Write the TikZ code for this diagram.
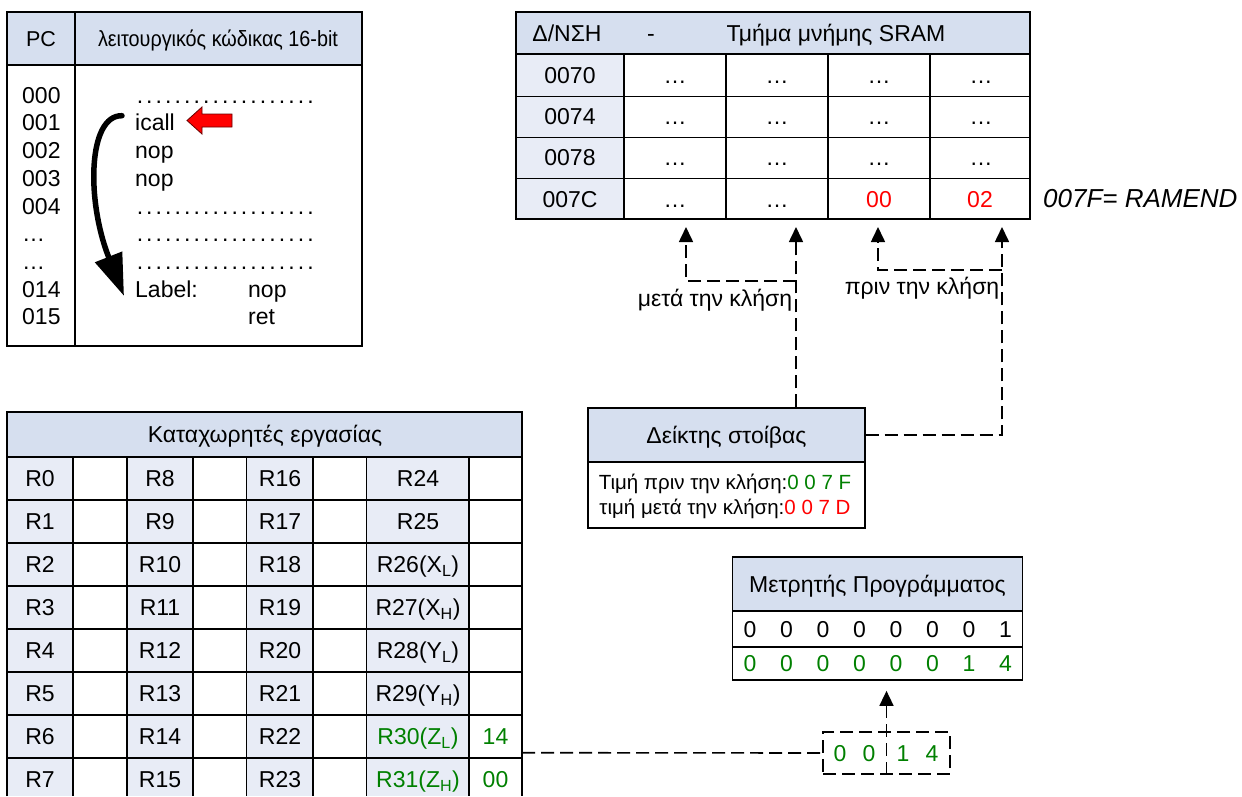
\documentclass[tikz,border=0pt]{standalone}
\usepackage{fontspec}
\setmainfont{Liberation Sans}
\usetikzlibrary{positioning, arrows.meta, calc}
\definecolor{headBlue}{HTML}{D6DFEF}
\definecolor{cellBlue}{HTML}{E8ECF6}
\definecolor{valGreen}{HTML}{008000}
\definecolor{valRed}{HTML}{FF0000}

\newcommand{\dotrow}{\hbox to 180pt{\xleaders\hbox to 9.4pt{\hss.\hss}\hfill}}

\tikzset{
  gridline/.style={line width=1.4pt},
  txt/.style={inner sep=0pt, text height=16.5pt, text depth=0pt, font=\fontsize{23}{27}\selectfont},
  smalltxt/.style={inner sep=0pt, text height=14.5pt, text depth=0pt, font=\fontsize{20.5}{24}\selectfont},
  dashlink/.style={line width=1.6pt, dash pattern=on 13pt off 6pt},
  uparrow/.style={dashlink, -{Triangle[length=15pt,width=14pt]}},
}

\begin{document}
\begin{tikzpicture}[x=1pt, y=-1pt]
  \useasboundingbox (0,0) rectangle (1242,796);

  % program listing
  \fill[headBlue] (7,12) rectangle (362,65);
  \draw[gridline] (7,12) rectangle (362,346);
  \draw[gridline] (7,65) -- (362,65);
  \draw[gridline] (75,12) -- (75,346);
  \node[txt, font=\fontsize{21.5}{25}\selectfont] (pchead) at (41,38) {PC};
  \node[txt, font=\fontsize{22}{26}\selectfont] (codehead) at (218,38) {\scalebox{0.9}[1]{λειτουργικός κώδικας 16-bit}};
  \foreach \a [count=\i from 0] in {000,001,002,003,004,…,…,014,015}
    \node[txt, anchor=west] (pc\i) at (22,95+27.7*\i) {\a};
  \foreach \c [count=\i from 0] in {\dotrow,icall,nop,nop,\dotrow,\dotrow,\dotrow,Label:}
    \node[txt, anchor=west] (code\i) at (135,95+27.7*\i) {\c};
  \node[txt, anchor=west] (labelnop) at (248,95+27.7*7) {nop};
  \node[txt, anchor=west] (labelret) at (248,95+27.7*8) {ret};

  \filldraw[fill=valRed, draw=black!60!red, line width=0.8pt]
    (187,120.5) -- (202,107) -- (202,114) -- (232,114) -- (232,127) -- (202,127) -- (202,134) -- cycle;
  \coordinate (jumpfrom) at ($(code1.west)+(-13,-7)$);
  \coordinate (jumpto) at ($(code7.west)+(-11,7)$);
  \draw[line width=5.5pt, line cap=round, -{Triangle[length=42pt,width=28pt]}]
    (jumpfrom) .. controls (88,115) and (86,200) .. (jumpto);

  % SRAM
  \fill[headBlue] (516,12) rectangle (1030,54);
  \fill[cellBlue] (516,54) rectangle (624,219);
  \draw[gridline] (516,12) rectangle (1030,219);
  \foreach \y in {54,96.5,137.5,178.5}
    \draw[gridline] (516,\y) -- (1030,\y);
  \foreach \x in {624,726,828,930}
    \draw[gridline] (\x,54) -- (\x,219);
  \node[txt] (sramaddr) at (567,33) {Δ/ΝΣΗ};
  \node[txt] (sramdash) at (651,33) {-};
  \node[txt] (sramhead) at (836,33) {Τμήμα μνήμης SRAM};
  \foreach \a [count=\i from 0] in {0070,0074,0078,007C}
    \node[txt] (addr\i) at (570,75.2+41.2*\i) {\a};
  \foreach \r in {0,1,2}
    \foreach \c in {0,...,3}
      \node[txt] (cell\r\c) at (675+102*\c,75.2+41.2*\r) {…};
  \node[txt] (cell30) at (675,198.8) {…};
  \node[txt] (cell31) at (777,198.8) {…};
  \node[txt, text=valRed] (cell32) at (879,198.8) {00};
  \node[txt, text=valRed] (cell33) at (980,198.8) {02};
  \node[txt, anchor=west, text height=18.5pt, font=\fontsize{26}{30}\selectfont\itshape] (ramend) at (1043,198) {007F= RAMEND};

  % stack pointer
  \node[draw, gridline, fill=headBlue, txt, minimum width=277pt, minimum height=54pt] (sphead) at (726.5,435) {Δείκτης στοίβας};
  \node[draw, gridline, minimum width=277pt, minimum height=66pt] (spbody) at (726.5,495) {};
  \node[smalltxt] (spbefore) at (725,482) {Τιμή πριν την κλήση:\textcolor{valGreen}{0 0 7 F}};
  \node[smalltxt] (spafter) at (725,507) {τιμή μετά την κλήση:\textcolor{valRed}{0 0 7 D}};

  \coordinate (after1) at (686,227);
  \coordinate (after2) at (796,227);
  \coordinate (before1) at (878,227);
  \coordinate (before2) at (1002,227);
  \draw[uparrow] (sphead.north -| after2) -- (after2);
  \draw[uparrow] ($(after2)+(0,54)$) -| (after1);
  \draw[uparrow] (sphead.east) -| (before2);
  \draw[uparrow] ($(before2)+(0,43)$) -| (before1);
  \node[txt] (afterlbl) at (715,298) {μετά την κλήση};
  \node[txt] (beforelbl) at (922,286) {πριν την κλήση};

  % working registers
  \fill[headBlue] (7,412) rectangle (522,457);
  \foreach \xa/\xb in {7/73,127/193,246.5/313,366.5/469}
    \fill[cellBlue] (\xa,457) rectangle (\xb,796);
  \draw[gridline] (7,796) -- (7,412) -- (522,412) -- (522,796);
  \foreach \i in {0,...,7}
    \draw[gridline] (7,457+43*\i) -- (522,457+43*\i);
  \foreach \x in {73,127,193,246.5,313,366.5,469}
    \draw[gridline] (\x,457) -- (\x,796);
  \node[txt] (reghead) at (265,434) {Καταχωρητές εργασίας};
  \foreach \i in {0,...,7} {
    \pgfmathtruncatemacro\j{\i+8}
    \pgfmathtruncatemacro\k{\i+16}
    \node[txt] (ra\i) at (40,478.5+43*\i) {R\i};
    \node[txt] (rb\i) at (160,478.5+43*\i) {R\j};
    \node[txt] (rc\i) at (280,478.5+43*\i) {R\k};
  }
  \foreach \t [count=\i from 0] in {R24,R25,R26(X\textsubscript{L}),R27(X\textsubscript{H}),R28(Y\textsubscript{L}),R29(Y\textsubscript{H}),\textcolor{valGreen}{R30(Z\textsubscript{L})},\textcolor{valGreen}{R31(Z\textsubscript{H})}}
    \node[txt] (rd\i) at (418,478.5+43*\i) {\t};
  \node[txt, text=valGreen] (zlowval) at (495.5,736.5) {14};
  \node[txt, text=valGreen] (zhighval) at (495.5,779.5) {00};

  % Z pointer -> program counter
  \node[draw, dashlink, inner sep=0pt, minimum width=127pt, minimum height=42pt] (zbox) at (886.5,753) {};
  \foreach \d/\x [count=\i] in {0/840,0/869,1/903,4/932}
    \node[txt, text=valGreen] (zd\i) at (\x,753) {\d};
  \coordinate (zlink) at (522,752.7);
  \draw[dashlink] (zlink) -- (zbox.west);

  \node[draw, gridline, fill=headBlue, txt, minimum width=290pt, minimum height=54.3pt] (pcnthead) at (877.5,584) {Μετρητής Προγράμματος};
  \node[draw, gridline, minimum width=290pt, minimum height=35.7pt] (pcntold) at (877.5,629) {};
  \node[draw, gridline, minimum width=290pt, minimum height=33.3pt] (pcntnew) at (877.5,663.5) {};
  \foreach \d [count=\i from 0] in {0,0,0,0,0,0,0,1}
    \node[txt] (old\i) at (750+36.5*\i,629) {\d};
  \foreach \d [count=\i from 0] in {0,0,0,0,0,0,1,4}
    \node[txt, text=valGreen] (new\i) at (750+36.5*\i,663.5) {\d};
  \coordinate (pcnttip) at ($(pcntnew.south -| zbox.south)+(0,10)$);
  \draw[uparrow] (zbox.south) -- (pcnttip);
\end{tikzpicture}
\end{document}
